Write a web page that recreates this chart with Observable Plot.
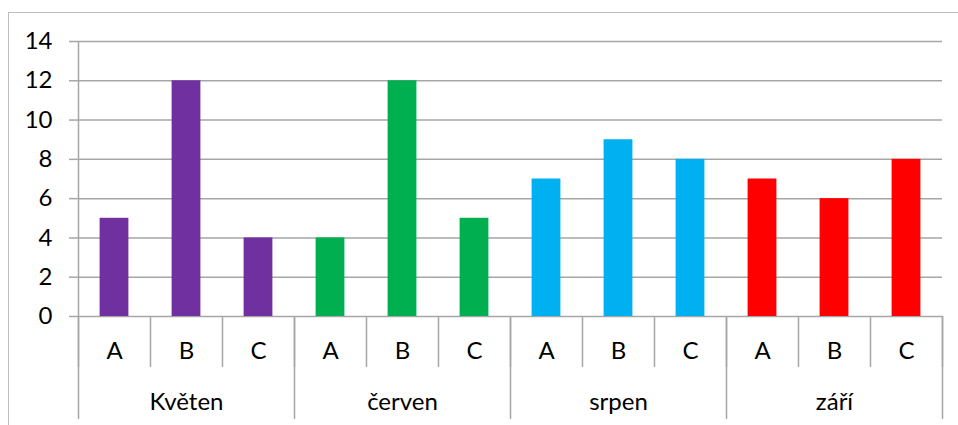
<!DOCTYPE html>
<html><head><meta charset="utf-8">
<script src="https://cdn.jsdelivr.net/npm/d3@7"></script>
<script src="https://cdn.jsdelivr.net/npm/@observablehq/plot@0.6"></script>
<style>
body{margin:0;background:#fff;}
#frame{position:absolute;left:8px;top:12px;width:950px;height:413px;border-left:1px solid #bfbfbf;border-top:1px solid #bfbfbf;box-sizing:border-box;}
#chart{position:absolute;left:0;top:0;}
</style></head><body>
<div id="frame"></div><div id="chart"></div>
<script>
const months = ["Květen", "červen", "srpen", "září"];
const letters = ["A", "B", "C"];
const kveten = [5, 12, 4];
const cerven = [4, 12, 5];
const srpen = [7, 9, 8];
const zari = [7, 6, 8];
const monthColors = ["#7030A0", "#00B050", "#00B0F0", "#FF0000"];
const yTicks = [0, 2, 4, 6, 8, 10, 12, 14];

const series = [kveten, cerven, srpen, zari];
const data = months.flatMap((m, g) => letters.map((l, j) => ({
  month: m, letter: l, value: series[g][j], slot: g * 3 + j, group: g
})));
const slotBounds = d3.range(0, months.length * letters.length + 1);
const groupBounds = d3.range(0, months.length * letters.length + 1, letters.length);

const gray = "#a6a6a6";
const font = "Lato, 'Liberation Sans', sans-serif";
const fs = 24;

const plot = Plot.plot({
  width: 958, height: 425,
  marginLeft: 78, marginRight: 16, marginTop: 41, marginBottom: 109,
  style: {fontFamily: font, fontSize: fs + "px", color: "#000", background: "transparent"},
  x: {type: "linear", domain: [0, 12]},
  y: {domain: [0, 14]},
  color: {type: "identity"},
  marks: [
    Plot.ruleY(yTicks, {stroke: gray, strokeWidth: 1.5}),
    Plot.axisY({ticks: yTicks, tickSize: 9, tickPadding: 17, stroke: gray, strokeWidth: 1.5, fontSize: fs, fill: "#000", label: null}),
    Plot.ruleX([0], {stroke: gray, strokeWidth: 1.5}),
    Plot.axisX({ticks: slotBounds, tickSize: 51, tickFormat: () => "", stroke: gray, strokeWidth: 1.5, label: null}),
    Plot.axisX({ticks: groupBounds, tickSize: 103, tickFormat: () => "", stroke: gray, strokeWidth: 1.5, label: null}),
    Plot.rectY(data, {x1: d => d.slot + 0.3, x2: d => d.slot + 0.7, y: "value", fill: d => monthColors[d.group]}),
    Plot.text(data, {x: d => d.slot + 0.5, y: 0, text: "letter", dy: 35, fontSize: fs, fill: "#000"}),
    Plot.text(months, {x: (d, i) => i * letters.length + letters.length / 2, y: 0, text: d => d, dy: 86, fontSize: fs, fill: "#000"})
  ]
});
document.getElementById("chart").appendChild(plot);
</script>
</body></html>
